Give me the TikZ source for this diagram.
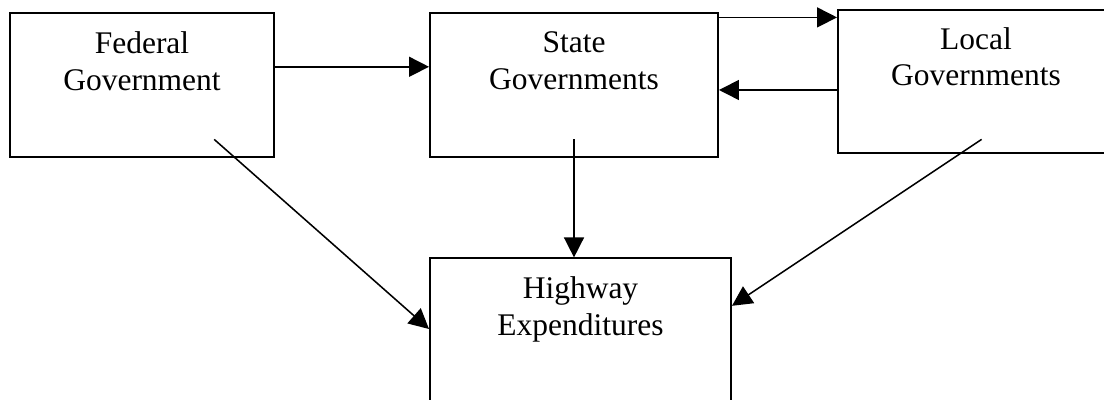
\documentclass[tikz,border=0pt]{standalone}
\usepackage{fontspec}
\setmainfont{Liberation Serif}
\usetikzlibrary{positioning,arrows.meta}

\tikzset{
  govbox/.style={draw=black, line width=1.4pt, rectangle, inner sep=0pt},
  boxtext/.style={align=center, inner sep=0pt, font=\fontsize{22.4}{26.1}\selectfont},
  flow/.style={line width=1.1pt, -{Triangle[length=0.5cm,width=0.5cm]}}
}

\begin{document}
\begin{tikzpicture}
		\useasboundingbox (0,0) rectangle (27.6,10);
		
		%boxes
		\node[govbox, minimum width=6.6cm, minimum height=3.6cm] (fed) at (3.55,7.88) {};
		\node[govbox, minimum width=7.2cm, minimum height=3.6cm] (st) at (14.35,7.88) {};
		\node[govbox, minimum width=6.9cm, minimum height=3.58cm] (loc) at (24.4,7.96) {};
		\node[govbox, minimum width=7.525cm, minimum height=3.8cm] (hw) at (14.5125,1.64) {};
		
		%titles
		\node[boxtext, below=0.5cm of fed.north] (fedtxt) {Federal\\Government};
		\node[boxtext, below=0.5cm of st.north] (sttxt) {State\\Governments};
		\node[boxtext, below=0.45cm of loc.north] (loctxt) {Local\\Governments};
		\node[boxtext, below=0.48cm of hw.north] (hwtxt) {Highway\\Expenditures};
		
		%transfers between governments
		\coordinate (fedout) at ([yshift=0.45cm]fed.east);
		\draw[flow] (fedout) -- (fedout -| st.west);
		\coordinate (stout) at ([yshift=-0.14cm]st.north east);
		\draw[flow] (stout) -- (stout -| loc.west);
		\coordinate (locout) at ([yshift=-0.21cm]loc.west);
		\draw[flow] (locout) -- (locout -| st.east);
		
		%spending
		\coordinate (feddown) at ([shift={(-1.52,0.46)}]fed.south east);
		\draw[flow] (feddown) -- ([yshift=-1.79cm]hw.north west);
		\coordinate (stdown) at ([yshift=0.46cm]st.south);
		\draw[flow] (stdown) -- (stdown |- hw.north);
		\coordinate (locdown) at ([shift={(0.14,0.37)}]loc.south);
		\draw[flow] (locdown) -- ([yshift=-1.21cm]hw.north east);
	
\end{tikzpicture}
\end{document}
